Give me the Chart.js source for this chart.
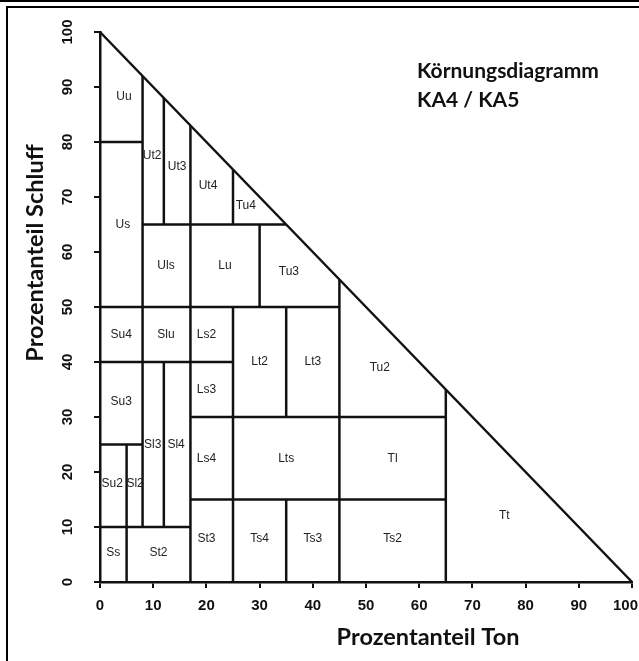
<!DOCTYPE html>
<html lang="de">
<head>
<meta charset="UTF-8">
<title>Körnungsdiagramm KA4 / KA5</title>
<script src="https://cdn.jsdelivr.net/npm/chart.js"></script>
<style>
  html, body { margin: 0; padding: 0; background: #fff; }
  #wrap { width: 639px; height: 661px; }
</style>
</head>
<body>
<div id="wrap"><canvas id="soilChart" width="639" height="661"></canvas></div>

<script>
// Achsenbeschriftung (Ton / Schluff in %)
const tonTicks = [0, 10, 20, 30, 40, 50, 60, 70, 80, 90, 100];
const schluffTicks = [0, 10, 20, 30, 40, 50, 60, 70, 80, 90, 100];

// Grenzlinien der Bodenarten: [Ton1, Schluff1, Ton2, Schluff2]
const boundaries = [
    [0, 100, 100, 0],   // Diagonale (Sand = 0)
    [8, 10, 8, 92],
    [5, 0, 5, 25],
    [12, 65, 12, 88],
    [12, 10, 12, 40],
    [17, 0, 17, 83],
    [25, 65, 25, 75],
    [25, 0, 25, 50],
    [30, 50, 30, 65],
    [35, 30, 35, 50],
    [35, 0, 35, 15],
    [45, 0, 45, 55],
    [65, 0, 65, 35],
    [0, 80, 8, 80],
    [8, 65, 35, 65],
    [0, 50, 45, 50],
    [0, 40, 25, 40],
    [17, 30, 65, 30],
    [0, 25, 8, 25],
    [17, 15, 65, 15],
    [0, 10, 17, 10]
];

// Bodenarten und Lage ihrer Beschriftung
const classNames   = ['Uu', 'Ut2', 'Ut3', 'Ut4', 'Tu4', 'Us', 'Uls', 'Lu', 'Tu3',
                      'Su4', 'Slu', 'Ls2', 'Lt2', 'Lt3', 'Tu2', 'Ls3', 'Su3', 'Sl3', 'Sl4',
                      'Ls4', 'Lts', 'Tl', 'Su2', 'Sl2', 'Tt', 'St3', 'Ts4', 'Ts3', 'Ts2', 'Ss', 'St2'];
const classTon     = [4.5, 9.8, 14.5, 20.3, 27.4, 4.3, 12.4, 23.5, 35.5,
                      4, 12.4, 20, 30, 40, 52.6, 20, 4, 9.9, 14.3,
                      20, 35, 55, 2.3, 6.6, 76, 20, 30, 40, 55, 2.5, 11];
const classSchluff = [88.2, 77.6, 75.5, 72, 68.4, 65, 57.6, 57.6, 56.4,
                      45, 45, 45, 40, 40, 38.9, 35, 32.7, 25, 25,
                      22.5, 22.5, 22.5, 17.8, 17.8, 12, 7.8, 7.8, 7.8, 7.8, 5.3, 5.3];

const datasets = boundaries.map(b => ({
    data: [{ x: b[0], y: b[1] }, { x: b[2], y: b[3] }],
    showLine: true,
    borderColor: '#111',
    borderWidth: 2.5,
    pointRadius: 0,
    fill: false,
    clip: false
}));

const soilLabels = {
    id: 'soilLabels',
    beforeDraw(chart) {
        const ctx = chart.ctx;
        ctx.save();
        ctx.fillStyle = '#fff';
        ctx.fillRect(0, 0, chart.width, chart.height);
        // Rahmen
        ctx.fillStyle = '#000';
        ctx.fillRect(0, 0, chart.width, 2);
        ctx.fillRect(6, 6, chart.width - 6, 2);
        ctx.fillRect(6, 6, 2, chart.height - 6);
        ctx.restore();
    },
    afterDraw(chart) {
        const { ctx, scales: { x, y } } = chart;
        ctx.save();
        ctx.textAlign = 'center';
        ctx.textBaseline = 'middle';

        ctx.fillStyle = '#222';
        ctx.font = '12px "Liberation Sans", Arial, sans-serif';
        classNames.forEach((name, i) => {
            ctx.fillText(name, x.getPixelForValue(classTon[i]), y.getPixelForValue(classSchluff[i]));
        });

        ctx.fillStyle = '#111';
        ctx.font = 'bold 15px "Liberation Sans", Arial, sans-serif';
        tonTicks.forEach(v => {
            const w = ctx.measureText(String(v)).width;
            // letzte Zahl nicht über den Rand schieben
            const px = Math.min(x.getPixelForValue(v), chart.width - 1 - w / 2);
            ctx.fillText(String(v), px, y.bottom + 24);
        });
        schluffTicks.forEach(v => {
            ctx.save();
            ctx.translate(x.left - 32, y.getPixelForValue(v));
            ctx.rotate(-Math.PI / 2);
            ctx.fillText(String(v), 0, 0);
            ctx.restore();
        });

        ctx.font = 'bold 23.5px Lato, "Open Sans", sans-serif';
        ctx.fillText('Prozentanteil Ton', 428, 637);
        ctx.save();
        ctx.translate(35, 253);
        ctx.rotate(-Math.PI / 2);
        ctx.fillText('Prozentanteil Schluff', 0, 0);
        ctx.restore();

        ctx.textAlign = 'left';
        ctx.textBaseline = 'alphabetic';
        ctx.font = 'bold 21px Lato, "Open Sans", sans-serif';
        ctx.fillText('Körnungsdiagramm', 417, 78);
        ctx.fillText('KA4 / KA5', 417, 107);
        ctx.restore();
    }
};

const axisStyle = {
    type: 'linear',
    min: 0,
    max: 100,
    ticks: { display: false, stepSize: 10 },
    grid: { display: true, drawOnChartArea: false, drawTicks: true, tickLength: 6, color: '#111', lineWidth: 2 },
    border: { display: true, color: '#111', width: 2.5 }
};

new Chart(document.getElementById('soilChart'), {
    type: 'scatter',
    data: { datasets },
    options: {
        responsive: false,
        animation: false,
        layout: { padding: { top: 32, right: 7, left: 0, bottom: 0 } },
        plugins: { legend: { display: false }, tooltip: { enabled: false } },
        scales: {
            x: Object.assign({}, axisStyle, { position: 'bottom', afterFit: s => { s.height = 79; } }),
            y: Object.assign({}, axisStyle, { position: 'left', afterFit: s => { s.width = 100; } })
        }
    },
    plugins: [soilLabels]
});
</script>
</body>
</html>
